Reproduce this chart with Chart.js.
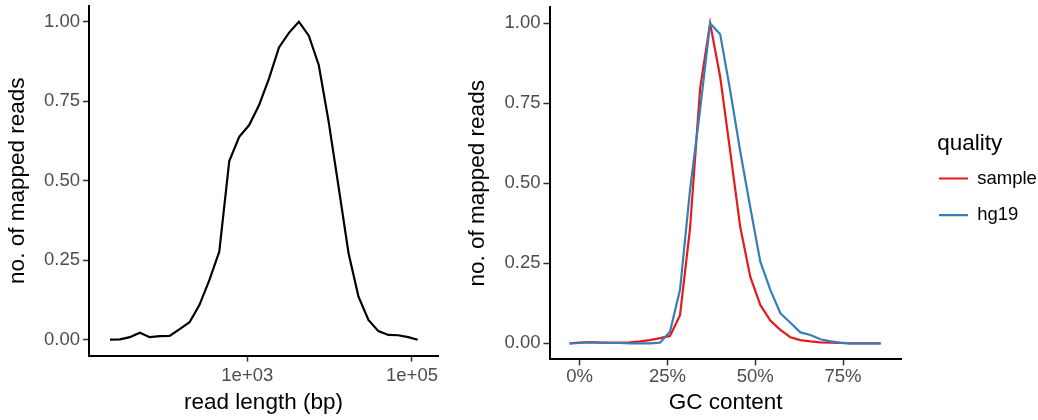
<!DOCTYPE html>
<html>
<head>
<meta charset="utf-8">
<script src="https://cdn.jsdelivr.net/npm/chart.js@4.4.1/dist/chart.umd.min.js"></script>
<style>
  html, body { margin: 0; padding: 0; background: #fff; overflow: hidden; }
  #wrap { position: relative; width: 1038px; height: 420px; overflow: hidden; }
  canvas { position: absolute; top: 0; }
  #lengthChart { left: 0; }
  #gcChart { left: 460px; }
</style>
</head>
<body>
<div id="wrap">
  <canvas id="lengthChart" width="460" height="420"></canvas>
  <canvas id="gcChart" width="600" height="420"></canvas>
</div>
<script>
// left panel: read length distribution
const readLength = [21.5, 28.4, 37.5, 49.5, 65.4, 86.3, 114, 151, 199, 262, 347, 457, 604, 798,
  1054, 1391, 1837, 2426, 3202, 4229, 5584, 7372, 9733, 12850, 16970, 22400, 29580, 39050,
  51560, 68080, 89900, 117200];
const readFrac = [0, 0.001, 0.008, 0.022, 0.008, 0.011, 0.012, 0.033, 0.055, 0.109, 0.188, 0.277,
  0.562, 0.638, 0.675, 0.738, 0.822, 0.919, 0.965, 1.0, 0.956, 0.864, 0.685, 0.48, 0.272, 0.135,
  0.062, 0.027, 0.015, 0.014, 0.008, 0];
const lengthTicks = [1e3, 1e5];

// right panel: GC content distribution
const gcContent = [-2.86, 0, 2.86, 5.71, 8.57, 11.43, 14.29, 17.14, 20, 22.86, 25.71, 28.57,
  31.43, 34.29, 37.14, 40, 42.86, 45.71, 48.57, 51.43, 54.29, 57.14, 60, 62.86, 65.71, 68.57,
  71.43, 74.29, 77.14, 80, 82.86, 85.71];
const sampleFrac = [0, 0.002, 0.004, 0.002, 0.002, 0.002, 0.003, 0.006, 0.01, 0.016, 0.023, 0.088,
  0.36, 0.797, 1.0, 0.833, 0.6, 0.364, 0.208, 0.12, 0.071, 0.042, 0.019, 0.01, 0.006, 0.003,
  0.002, 0.001, 0, 0, 0, 0];
const hg19Frac = [0, 0.001, 0.003, 0.002, 0.001, 0.001, 0, 0, 0, 0.002, 0.036, 0.167,
  0.48, 0.73, 1.0, 0.966, 0.79, 0.6, 0.425, 0.255, 0.167, 0.094, 0.064, 0.034, 0.026, 0.0125,
  0.006, 0.002, 0, 0, 0, 0];
const gcTicks = [0, 25, 50, 75];

const fracTicks = [0, 0.25, 0.5, 0.75, 1];

const FONT = "'Liberation Sans', Arial, Helvetica, sans-serif";
const tickFont = { family: FONT, size: 18.5 };
const titleFont = { family: FONT, size: 22.5 };
const LEGEND_GAP = 35.6;

function fracAxis(width) {
  return {
    min: -0.05,
    max: 1.05,
    afterFit: s => { s.width = width; s.paddingTop = 0; s.paddingBottom = 0; },
    afterBuildTicks: s => { s.ticks = fracTicks.map(v => ({ value: v })); },
    grid: { display: true, drawOnChartArea: false, tickLength: 6, tickColor: "#333", tickWidth: 1.5 },
    border: { display: true, color: "#000", width: 2 },
    ticks: { padding: 3, color: "#4d4d4d", font: tickFont, callback: v => Number(v).toFixed(2) },
    title: { display: true, text: "no. of mapped reads", color: "#000", font: titleFont,
      padding: { top: 4.7, bottom: 0 } }
  };
}

function bottomAxis(type, min, max, tickVals, fmt, height, labelPad, title) {
  return {
    type, min, max,
    afterFit: s => { s.height = height; s.paddingLeft = 0; s.paddingRight = 0; },
    afterBuildTicks: s => { s.ticks = tickVals.map(v => ({ value: v })); },
    grid: { display: true, drawOnChartArea: false, tickLength: 6, tickColor: "#333", tickWidth: 1.5 },
    border: { display: true, color: "#000", width: 2 },
    ticks: { padding: labelPad, color: "#4d4d4d", font: tickFont, autoSkip: false, maxRotation: 0,
      callback: v => fmt(Number(v)) },
    title: { display: true, text: title, color: "#000", font: titleFont, padding: { top: 0, bottom: 4 } }
  };
}

// the legend box is kept narrow for layout, then widened so its labels are not clipped
const legendPlacement = {
  id: "legendPlacement",
  afterLayout(chart) {
    const lg = chart.legend;
    lg.left = chart.chartArea.right + LEGEND_GAP;
    lg.right = chart.width;
    lg.width = lg.right - lg.left;
  }
};

new Chart(document.getElementById("lengthChart"), {
  type: "line",
  data: {
    datasets: [{
      label: "reads",
      data: readLength.map((x, i) => ({ x, y: readFrac[i] })),
      borderColor: "#000",
      borderWidth: 2.2,
      pointRadius: 0,
      fill: false
    }]
  },
  options: {
    responsive: false,
    animation: false,
    events: [],
    layout: { autoPadding: false, padding: { top: 5.8, right: 22, bottom: 0, left: 0 } },
    plugins: { legend: { display: false }, tooltip: { enabled: false } },
    scales: {
      x: bottomAxis("logarithmic", 11.96, 206900, lengthTicks,
        v => v.toExponential(0).replace(/e\+(\d)$/, "e+0$1"), 64.4, 3, "read length (bp)"),
      y: fracAxis(89)
    }
  }
});

new Chart(document.getElementById("gcChart"), {
  type: "line",
  data: {
    datasets: [
      { label: "sample", data: gcContent.map((x, i) => ({ x, y: sampleFrac[i] })),
        borderColor: "#E41A1C", borderWidth: 2.2, pointRadius: 0, fill: false, order: 2 },
      { label: "hg19", data: gcContent.map((x, i) => ({ x, y: hg19Frac[i] })),
        borderColor: "#377EB8", borderWidth: 2.2, pointRadius: 0, fill: false, order: 1 }
    ]
  },
  plugins: [legendPlacement],
  options: {
    responsive: false,
    animation: false,
    events: [],
    layout: { autoPadding: false, padding: { top: 7.3, right: 42.7, bottom: 0, left: 0 } },
    plugins: {
      tooltip: { enabled: false },
      legend: {
        display: true,
        position: "right",
        align: "start",
        maxWidth: 80,
        title: { display: true, text: "quality", color: "#000", position: "start", font: titleFont,
          padding: { top: 125.5, bottom: 7.75 } },
        labels: {
          usePointStyle: true,
          pointStyleWidth: 29,
          padding: 1.7,
          color: "#000",
          font: { family: FONT, size: 18.5, lineHeight: 1.892 },
          generateLabels: chart => chart.data.datasets.map((ds, i) => ({
            text: [ds.label],
            fillStyle: ds.borderColor,
            strokeStyle: ds.borderColor,
            lineWidth: 2.2,
            pointStyle: "line",
            fontColor: "#000",
            hidden: false,
            datasetIndex: i
          }))
        }
      }
    },
    scales: {
      x: bottomAxis("linear", -8.6, 91.7, gcTicks, v => v + "%", 60.7, 1, "GC content"),
      y: fracAxis(89.5),
      // empty space between the panel and the legend
      gap: { type: "linear", position: "right", display: true,
        grid: { display: false }, border: { display: false }, ticks: { display: false },
        afterFit: s => { s.width = LEGEND_GAP; } }
    }
  }
});
</script>
</body>
</html>
